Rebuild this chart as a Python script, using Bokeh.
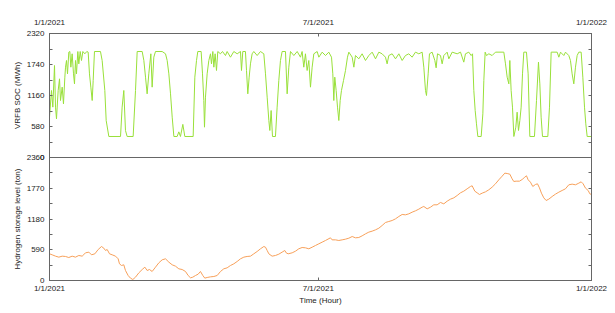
from bokeh.plotting import figure
from bokeh.layouts import column
from bokeh.models import Range1d, LinearAxis, FixedTicker
from bokeh.embed import file_html
from bokeh.resources import INLINE

# ---------------- data ----------------
date_tick_hours = [0, 4344, 8760]
date_tick_labels = ["1/1/2021", "7/1/2021", "1/1/2022"]
soc_ticks = [0, 580, 1160, 1740, 2320]
h2_ticks = [0, 590, 1180, 1770, 2360]

soc_hours = [0, 32, 54, 81, 97, 113, 140, 162, 178, 205, 226, 248, 259, 275, 291, 312, 329, 345, 366, 388,
             404, 420, 436, 458, 474, 496, 517, 539, 571, 603, 625, 646, 668, 690, 706, 727, 824, 851, 894, 916,
             959, 1148, 1174, 1201, 1228, 1255, 1352, 1390, 1417, 1498, 1525, 1552, 1578, 1605, 1638, 1659, 1686, 1713, 1821, 1875,
             1902, 1929, 1956, 1983, 2010, 2063, 2090, 2117, 2155, 2187, 2322, 2349, 2376, 2397, 2451, 2473, 2494, 2505, 2521, 2548,
             2575, 2602, 2618, 2640, 2656, 2677, 2699, 2720, 2763, 2796, 2844, 2871, 2925, 2979, 3033, 3087, 3103, 3124, 3167, 3184,
             3205, 3227, 3248, 3275, 3302, 3356, 3410, 3464, 3491, 3518, 3545, 3561, 3582, 3604, 3652, 3679, 3706, 3733, 3760, 3814,
             3841, 3868, 3895, 3949, 4003, 4056, 4083, 4110, 4137, 4164, 4191, 4218, 4245, 4272, 4326, 4353, 4407, 4461, 4514, 4558,
             4579, 4595, 4611, 4633, 4655, 4676, 4698, 4719, 4752, 4784, 4816, 4838, 4892, 4919, 4945, 4999, 5053, 5107, 5161, 5215,
             5269, 5323, 5376, 5430, 5457, 5484, 5538, 5592, 5646, 5700, 5753, 5807, 5861, 5915, 5969, 6023, 6050, 6077, 6093, 6120,
             6141, 6184, 6228, 6249, 6271, 6319, 6346, 6373, 6427, 6454, 6508, 6589, 6643, 6696, 6723, 6777, 6815, 6837, 6858, 6880,
             6901, 6923, 6977, 7004, 7020, 7041, 7063, 7101, 7154, 7208, 7343, 7370, 7397, 7424, 7440, 7461, 7483, 7505, 7537, 7558,
             7580, 7602, 7623, 7645, 7666, 7709, 7736, 7763, 7838, 7871, 7903, 7925, 7946, 7968, 8054, 8081, 8108, 8205, 8232, 8259,
             8313, 8340, 8393, 8420, 8447, 8474, 8501, 8528, 8555, 8593, 8620, 8647, 8668, 8690, 8760]
soc_mwh = [755, 1254, 942, 1721, 942, 723, 1254, 1472, 1066, 1316, 1004, 1503, 1690, 1815, 1565, 1971, 1983, 1690, 1940, 1565,
           1378, 1815, 1565, 1983, 1752, 1983, 1815, 1983, 1940, 1983, 1971, 1565, 1316, 1066, 1441, 1983, 1983, 1815, 1254, 692,
           393, 393, 942, 1254, 505, 393, 393, 1254, 1983, 1983, 1815, 1503, 1191, 1565, 1940, 1316, 1877, 1983, 1983, 1940,
           1815, 1565, 1191, 755, 393, 393, 480, 393, 620, 393, 393, 1503, 1815, 1983, 1983, 1565, 1066, 567, 1129, 1565,
           1815, 1940, 1752, 1983, 1690, 1940, 1628, 1983, 1940, 1983, 1908, 1983, 1877, 1983, 1940, 1983, 1628, 1983, 1983, 1628,
           1191, 1503, 1752, 1940, 1983, 1908, 1983, 1940, 1565, 1129, 692, 505, 879, 393, 393, 942, 1441, 1815, 1983, 1983,
           1191, 1690, 1983, 1908, 1983, 1877, 1983, 1690, 1940, 1628, 1815, 1316, 1690, 1940, 1983, 1877, 1971, 1908, 1971, 1877,
           1565, 1066, 1503, 1254, 942, 692, 1066, 1254, 1441, 1628, 1877, 1971, 1877, 1690, 1908, 1846, 1940, 1815, 1908, 1971,
           1846, 1971, 1940, 1877, 1752, 1908, 1940, 1846, 1940, 1815, 1908, 1940, 1877, 1971, 1940, 1971, 1690, 1254, 1160, 1565,
           1940, 1971, 1815, 1678, 1940, 1908, 1752, 1908, 1971, 1846, 1971, 1940, 1971, 1784, 1940, 1971, 1908, 1940, 1254, 879,
           630, 393, 393, 817, 1441, 1971, 1908, 1940, 1908, 1971, 1971, 1752, 1503, 1378, 1815, 1254, 942, 393, 567, 848,
           505, 692, 942, 1565, 1971, 1971, 1565, 393, 393, 1066, 1784, 1378, 755, 393, 393, 942, 1971, 1971, 1877, 1971,
           1908, 1971, 1908, 1815, 1565, 1378, 1690, 1908, 1971, 1971, 1503, 942, 630, 393, 393]

h2_hours = [0, 43, 97, 151, 205, 259, 312, 366, 420, 474, 528, 582, 636, 679, 733, 787, 840, 878, 905, 932,
            970, 1013, 1067, 1110, 1131, 1164, 1201, 1228, 1271, 1309, 1347, 1390, 1444, 1498, 1541, 1578, 1616, 1659, 1713, 1767,
            1821, 1875, 1929, 1983, 2036, 2090, 2144, 2198, 2241, 2279, 2316, 2360, 2403, 2440, 2478, 2510, 2548, 2602, 2656, 2710,
            2764, 2817, 2871, 2925, 2979, 3033, 3087, 3141, 3194, 3248, 3302, 3356, 3410, 3464, 3491, 3518, 3545, 3598, 3652, 3706,
            3760, 3803, 3825, 3857, 3922, 3976, 4029, 4083, 4137, 4191, 4245, 4299, 4353, 4407, 4461, 4541, 4568, 4622, 4676, 4730,
            4784, 4838, 4892, 4945, 4999, 5053, 5107, 5161, 5215, 5269, 5323, 5376, 5430, 5484, 5538, 5592, 5646, 5700, 5753, 5807,
            5861, 5915, 5969, 6023, 6050, 6104, 6158, 6211, 6265, 6319, 6373, 6427, 6481, 6535, 6589, 6642, 6696, 6750, 6804, 6831,
            6874, 6912, 6949, 6993, 7046, 7100, 7154, 7208, 7262, 7316, 7359, 7397, 7440, 7477, 7504, 7542, 7596, 7639, 7682, 7709,
            7736, 7773, 7811, 7854, 7887, 7919, 7951, 7989, 8027, 8070, 8124, 8178, 8232, 8285, 8339, 8393, 8447, 8501, 8555, 8593,
            8625, 8663, 8706, 8733, 8760]
h2_ton = [512, 493, 467, 448, 467, 461, 441, 467, 448, 480, 467, 531, 544, 493, 512, 595, 652, 620, 576, 595,
          512, 493, 467, 416, 320, 288, 301, 192, 96, 45, 19, 64, 147, 211, 256, 192, 211, 173, 256, 339,
          397, 416, 352, 301, 275, 224, 211, 173, 96, 51, 64, 96, 122, 173, 96, 45, 58, 70, 77, 96,
          173, 224, 243, 288, 320, 365, 416, 448, 461, 467, 512, 557, 608, 652, 639, 576, 512, 467, 480, 505,
          544, 576, 531, 512, 531, 563, 608, 633, 627, 608, 639, 672, 704, 736, 768, 819, 780, 780, 768, 780,
          793, 812, 844, 819, 825, 857, 895, 928, 947, 972, 1004, 1055, 1113, 1132, 1151, 1183, 1228, 1267, 1260, 1279,
          1311, 1337, 1369, 1407, 1420, 1375, 1407, 1452, 1452, 1497, 1471, 1522, 1561, 1586, 1631, 1682, 1714, 1759, 1804, 1817,
          1714, 1682, 1650, 1676, 1701, 1740, 1791, 1855, 1932, 2002, 2060, 2053, 2040, 1951, 1900, 1906, 1906, 1938, 1983, 2009,
          1932, 1887, 1804, 1842, 1855, 1778, 1676, 1586, 1535, 1561, 1612, 1657, 1695, 1727, 1759, 1836, 1849, 1836, 1868, 1893,
          1855, 1772, 1727, 1663, 1650]

# ---------------- styling ----------------
FONT = "Liberation Sans"
AX = "#666666"
TXT = "#222222"
SOC_COLOR = "#99e03a"
H2_COLOR = "#f7a05a"

date_overrides = {h: lab for h, lab in zip(date_tick_hours, date_tick_labels)}


def minor_of(ticks):
    return [(a + b) / 2 for a, b in zip(ticks[:-1], ticks[1:])]


def style_axis(ax):
    ax.axis_line_color = AX
    ax.axis_line_width = 1
    ax.major_tick_in = 3
    ax.major_tick_out = 0
    ax.minor_tick_in = 3
    ax.minor_tick_out = 0
    ax.major_tick_line_color = AX
    ax.minor_tick_line_color = AX
    ax.major_label_text_font = FONT
    ax.major_label_text_color = TXT
    ax.major_label_text_font_size = "8px"
    ax.axis_label_text_font = FONT
    ax.axis_label_text_font_size = "8px"
    ax.axis_label_text_font_style = "normal"
    ax.axis_label_text_color = TXT


def blank_right_axis(ticks):
    ax = LinearAxis(ticker=FixedTicker(ticks=ticks, minor_ticks=minor_of(ticks)))
    style_axis(ax)
    ax.major_label_overrides = {t: "" for t in ticks}
    ax.major_label_standoff = 0
    return ax


x_range = Range1d(0, 8760)

# top panel
p1 = figure(width=611, height=163, x_range=x_range, y_range=Range1d(0, 2320),
            x_axis_location="above", output_backend="svg", toolbar_location=None,
            min_border_left=49, min_border_right=20, min_border_top=33, min_border_bottom=6)
p1.line(soc_hours, soc_mwh, line_color=SOC_COLOR, line_width=1)
p1.xaxis.ticker = FixedTicker(ticks=date_tick_hours)
p1.xaxis.major_label_overrides = date_overrides
p1.xaxis.major_label_standoff = 7
p1.yaxis.ticker = FixedTicker(ticks=soc_ticks, minor_ticks=minor_of(soc_ticks))
p1.yaxis.axis_label = "VRFB SOC (MWh)"
p1.yaxis.axis_label_standoff = 2
p1.yaxis.major_label_standoff = 5
for ax in p1.xaxis + p1.yaxis:
    style_axis(ax)
p1.add_layout(blank_right_axis(soc_ticks), "right")

# bottom panel
p2 = figure(width=611, height=159, x_range=x_range, y_range=Range1d(0, 2360),
            output_backend="svg", toolbar_location=None,
            min_border_left=49, min_border_right=20, min_border_top=6, min_border_bottom=30)
p2.line(h2_hours, h2_ton, line_color=H2_COLOR, line_width=1)
p2.xaxis.ticker = FixedTicker(ticks=date_tick_hours)
p2.xaxis.major_label_overrides = date_overrides
p2.xaxis.axis_label = "Time (Hour)"
p2.xaxis.major_label_standoff = 3
p2.xaxis.axis_label_standoff = 0
p2.yaxis.ticker = FixedTicker(ticks=h2_ticks, minor_ticks=minor_of(h2_ticks))
p2.yaxis.axis_label = "Hydrogen storage level (ton)"
p2.yaxis.axis_label_standoff = 2
p2.yaxis.major_label_standoff = 5
for ax in p2.xaxis + p2.yaxis:
    style_axis(ax)
p2.add_layout(blank_right_axis(h2_ticks), "right")

for p in (p1, p2):
    p.xgrid.visible = False
    p.ygrid.visible = False
    p.outline_line_color = AX
    p.outline_line_width = 1
    p.background_fill_color = "white"

p2.border_fill_color = None
p2.margin = (-12, 0, 0, 0)

layout = column(p1, p2, spacing=0)
open("out.html", "w").write(file_html(layout, INLINE))
